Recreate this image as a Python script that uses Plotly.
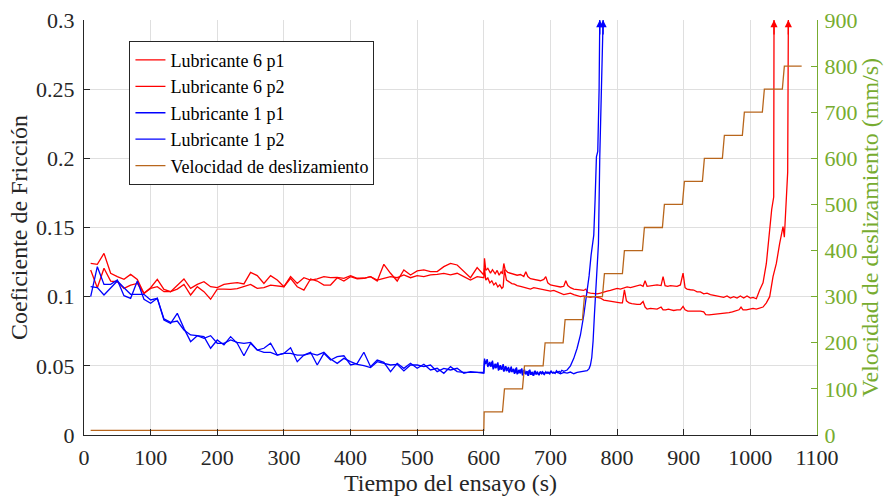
import plotly.graph_objects as go

# ---------------- data ----------------
# pre-600 s samples (every 10 s)
t_pre = [10, 20, 30, 40, 50, 60, 70, 80, 90, 100, 110, 120, 130, 140, 150, 160, 170, 180, 190, 200,
         210, 220, 230, 240, 250, 260, 270, 280, 290, 300, 310, 320, 330, 340, 350, 360, 370, 380, 390, 400,
         410, 420, 430, 440, 450, 460, 470, 480, 490, 500, 510, 520, 530, 540, 550, 560, 570, 580, 590, 600]

lub6_p1_pre = [0.1241, 0.1234, 0.1313, 0.1169, 0.1145, 0.1125, 0.1161, 0.1125, 0.1024, 0.1065, 0.1125, 0.1053,
               0.1036, 0.1080, 0.1128, 0.1060, 0.1089, 0.1108, 0.1072, 0.1065, 0.1089, 0.1096,
               0.1101, 0.1092, 0.1176, 0.1152, 0.1096, 0.1152, 0.1120, 0.1072, 0.1145, 0.1096, 0.1137,
               0.1120, 0.1128, 0.1145, 0.1137, 0.1140, 0.1133, 0.1152, 0.1133, 0.1133, 0.1145, 0.1113,
               0.1234, 0.1169, 0.1113, 0.1193, 0.1157, 0.1186, 0.1193, 0.1181, 0.1181, 0.1217, 0.1241,
               0.1229, 0.1181, 0.1137, 0.1210, 0.1157]
lub6_p2_pre = [0.1193, 0.1065, 0.1205, 0.1113, 0.1108, 0.1060, 0.1084, 0.1096, 0.1024, 0.1060, 0.1072, 0.1036,
               0.1036, 0.1055, 0.1089, 0.1012, 0.1072, 0.1036, 0.0981, 0.1055, 0.1055, 0.1053,
               0.1058, 0.1072, 0.1089, 0.1060, 0.1065, 0.1084, 0.1080, 0.1072, 0.1133, 0.1072, 0.1048,
               0.1128, 0.1113, 0.1084, 0.1084, 0.1137, 0.1113, 0.1145, 0.1128, 0.1133, 0.1145, 0.1120,
               0.1133, 0.1145, 0.1137, 0.1157, 0.1137, 0.1152, 0.1145, 0.1157, 0.1161, 0.1169, 0.1157,
               0.1169, 0.1145, 0.1120, 0.1145, 0.1137]
lub1_p1_pre = [0.1000, 0.1217, 0.1089, 0.1089, 0.1120, 0.1007, 0.0988, 0.1113, 0.0981, 0.0952, 0.0988, 0.0831,
               0.0807, 0.0880, 0.0771, 0.0675, 0.0718, 0.0711, 0.0627, 0.0687, 0.0651, 0.0711,
               0.0663, 0.0573, 0.0663, 0.0614, 0.0627, 0.0663, 0.0578, 0.0590, 0.0631, 0.0530, 0.0578,
               0.0598, 0.0506, 0.0590, 0.0542, 0.0566, 0.0573, 0.0506, 0.0518, 0.0598, 0.0494, 0.0542,
               0.0525, 0.0458, 0.0518, 0.0482, 0.0518, 0.0482, 0.0511, 0.0470, 0.0482, 0.0446, 0.0494,
               0.0458, 0.0453, 0.0453, 0.0453, 0.0446]
lub1_p2_pre = [0.1072, 0.1065, 0.1012, 0.1065, 0.1113, 0.1065, 0.1017, 0.1017, 0.1017, 0.0976, 0.0988, 0.0839,
               0.0814, 0.0824, 0.0759, 0.0723, 0.0718, 0.0699, 0.0718, 0.0663, 0.0663, 0.0687,
               0.0670, 0.0663, 0.0670, 0.0614, 0.0598, 0.0598, 0.0578, 0.0590, 0.0590, 0.0578, 0.0578,
               0.0590, 0.0578, 0.0598, 0.0549, 0.0518, 0.0554, 0.0530, 0.0511, 0.0501, 0.0487, 0.0530,
               0.0518, 0.0506, 0.0511, 0.0463, 0.0506, 0.0506, 0.0494, 0.0506, 0.0458, 0.0482, 0.0470,
               0.0482, 0.0446, 0.0458, 0.0453, 0.0453]

# post-600 s samples (time, COF)
lub6_p1_post = [(601, 0.1277), (603, 0.119), (606, 0.1205), (610, 0.117), (613, 0.1195), (617, 0.1165),
                (620, 0.119), (623, 0.1155), (626, 0.118), (628, 0.1165), (630, 0.124), (632, 0.1195),
                (636, 0.1175), (640, 0.117), (645, 0.1165), (650, 0.1155), (655, 0.116), (660, 0.1145),
                (663, 0.118), (666, 0.1145), (670, 0.113), (675, 0.1125), (680, 0.112), (685, 0.1115),
                (690, 0.1125), (693, 0.1145), (696, 0.110), (700, 0.1085), (705, 0.108), (710, 0.1075),
                (715, 0.107), (720, 0.1075), (723, 0.1115), (726, 0.108), (730, 0.1065), (735, 0.1055),
                (740, 0.105), (745, 0.1045), (750, 0.1045), (753, 0.1055), (756, 0.103), (760, 0.1025),
                (765, 0.102), (770, 0.102), (775, 0.1025), (780, 0.1035), (785, 0.104), (790, 0.1045),
                (795, 0.1055), (800, 0.106), (805, 0.1055), (810, 0.1065), (815, 0.107), (820, 0.1065),
                (825, 0.107), (830, 0.108), (835, 0.1085), (839, 0.1075), (842, 0.1115), (845, 0.1075),
                (850, 0.108), (855, 0.108), (860, 0.1085), (866, 0.108), (869, 0.1145), (872, 0.108),
                (876, 0.1075), (880, 0.108), (885, 0.108), (890, 0.1075), (895, 0.1085), (899, 0.117),
                (902, 0.1065), (905, 0.1055), (910, 0.105), (915, 0.1048), (920, 0.1035), (925, 0.1035),
                (930, 0.102), (935, 0.1025), (940, 0.1015), (945, 0.101), (950, 0.1005), (955, 0.1),
                (960, 0.0995), (965, 0.1005), (970, 0.099), (975, 0.1), (980, 0.099), (985, 0.1005),
                (990, 0.099), (995, 0.1005), (1000, 0.099), (1004, 0.0995), (1009, 0.0985), (1014, 0.1048),
                (1019, 0.11), (1024, 0.124), (1028, 0.145), (1032, 0.163), (1035, 0.172), (1035.5, 0.3)]
lub6_p2_post = [(601, 0.1205), (603, 0.112), (606, 0.1135), (609, 0.110), (612, 0.1115), (615, 0.1085),
                (618, 0.110), (621, 0.107), (624, 0.1085), (627, 0.106), (629, 0.107), (631, 0.1195),
                (634, 0.112), (638, 0.1105), (642, 0.1095), (646, 0.109), (650, 0.108), (655, 0.1075),
                (660, 0.107), (665, 0.1065), (670, 0.1055), (675, 0.1065), (680, 0.106), (685, 0.1055),
                (690, 0.105), (695, 0.1045), (700, 0.104), (705, 0.1045), (710, 0.1035), (715, 0.1025),
                (720, 0.1015), (725, 0.102), (730, 0.1025), (735, 0.1015), (740, 0.101), (745, 0.1),
                (750, 0.1005), (755, 0.1), (760, 0.0995), (765, 0.1), (770, 0.0995), (775, 0.099),
                (780, 0.0975), (785, 0.097), (790, 0.0965), (795, 0.096), (800, 0.0955), (805, 0.0955),
                (808, 0.0955), (811, 0.105), (814, 0.097), (818, 0.0955), (822, 0.095), (826, 0.0945),
                (830, 0.0945), (835, 0.0945), (839, 0.0965), (842, 0.0925), (845, 0.091), (850, 0.0915),
                (855, 0.091), (860, 0.091), (866, 0.0925), (869, 0.0905), (873, 0.0905), (877, 0.091),
                (881, 0.0905), (885, 0.090), (890, 0.0905), (895, 0.0905), (899, 0.093), (902, 0.0905),
                (906, 0.0895), (910, 0.0895), (915, 0.09), (920, 0.0895), (925, 0.0895), (930, 0.089),
                (933, 0.087), (938, 0.0868), (943, 0.087), (948, 0.0875), (953, 0.0875), (958, 0.088),
                (963, 0.088), (968, 0.0885), (973, 0.089), (978, 0.0895), (983, 0.0905), (986, 0.0925),
                (989, 0.0905), (994, 0.0905), (999, 0.091), (1004, 0.0915), (1009, 0.091), (1014, 0.092),
                (1019, 0.0925), (1024, 0.0955), (1029, 0.100), (1034, 0.1145), (1039, 0.124),
                (1044, 0.1386), (1047, 0.145), (1049, 0.1506), (1051, 0.143), (1054, 0.172),
                (1056, 0.19), (1057, 0.3)]
lub1_p1_post = [(601, 0.0552), (603, 0.0515), (605, 0.0548), (607, 0.050), (609, 0.0528), (611, 0.0495),
                (613, 0.0538), (615, 0.0482), (617, 0.0515), (619, 0.0488), (621, 0.0525), (623, 0.0472),
                (625, 0.0505), (627, 0.0478), (629, 0.0512), (631, 0.0462), (633, 0.0498), (635, 0.047),
                (637, 0.0492), (639, 0.0455), (641, 0.0495), (643, 0.0462), (645, 0.0478), (647, 0.0448),
                (649, 0.0488), (651, 0.0442), (653, 0.0472), (655, 0.0445), (657, 0.0482), (659, 0.0432),
                (661, 0.0475), (663, 0.0438), (665, 0.0462), (667, 0.0428), (669, 0.0472), (671, 0.0435),
                (673, 0.0455), (675, 0.043), (677, 0.0465), (679, 0.0438), (681, 0.0452), (683, 0.0432),
                (685, 0.046), (687, 0.0442), (689, 0.0452), (691, 0.0438), (693, 0.0458), (695, 0.0445),
                (697, 0.0452), (699, 0.0442), (701, 0.0462), (703, 0.0448), (705, 0.0455), (707, 0.0445),
                (709, 0.0465), (711, 0.0452), (713, 0.046), (715, 0.0452), (717, 0.0468), (720, 0.046),
                (725, 0.047), (730, 0.050), (735, 0.0554), (740, 0.0627), (745, 0.0723), (750, 0.0867),
                (755, 0.1036), (758, 0.115), (761, 0.13), (764, 0.1434), (765, 0.1445), (767, 0.17),
                (769, 0.201), (771, 0.205), (773, 0.25), (774, 0.3)]
lub1_p2_post = [(601, 0.0538), (602, 0.0512), (604, 0.0535), (606, 0.0492), (608, 0.0518), (610, 0.0495),
                (612, 0.0528), (614, 0.0475), (616, 0.0508), (618, 0.0482), (620, 0.0515), (622, 0.0465),
                (624, 0.0502), (626, 0.0472), (628, 0.0488), (630, 0.0458), (632, 0.0495), (634, 0.0462),
                (636, 0.0478), (638, 0.0452), (640, 0.0485), (642, 0.0455), (644, 0.0472), (646, 0.0442),
                (648, 0.0482), (650, 0.0438), (652, 0.0468), (654, 0.0448), (656, 0.0475), (658, 0.0432),
                (660, 0.0468), (662, 0.0442), (664, 0.046), (666, 0.043), (668, 0.0468), (670, 0.0436),
                (672, 0.0455), (674, 0.0428), (676, 0.0462), (678, 0.0442), (680, 0.0455), (682, 0.0435),
                (684, 0.0452), (686, 0.0445), (688, 0.0458), (690, 0.044), (692, 0.0452), (694, 0.0448),
                (696, 0.0455), (698, 0.0445), (700, 0.0458), (705, 0.0448), (710, 0.0455), (715, 0.0442),
                (720, 0.0452), (725, 0.0447), (730, 0.0455), (735, 0.0443), (740, 0.0452), (745, 0.0457),
                (750, 0.046), (755, 0.0465), (758, 0.048), (760, 0.0506), (762, 0.056), (764, 0.068),
                (766, 0.087), (768, 0.106), (770, 0.125), (772, 0.138), (774, 0.201), (776, 0.25),
                (779, 0.3)]

# sliding speed (mm/s), step profile
vel_t = [10, 600, 600.5, 628, 631, 658, 661, 689, 692, 719, 722, 748, 751, 778, 781, 808, 811, 838,
         841, 868, 871, 898, 901, 928, 931, 958, 961, 988, 991, 1018, 1021, 1048, 1051, 1077]
vel_v = [10, 10, 50, 50, 100, 100, 150, 150, 200, 200, 250, 250, 300, 300, 350, 350, 400, 400,
         450, 450, 500, 500, 550, 550, 600, 600, 650, 650, 700, 700, 750, 750, 800, 800]

names = ["Lubricante 6 p1", "Lubricante 6 p2", "Lubricante 1 p1", "Lubricante 1 p2"]
colors = ["#FF0000", "#FF0000", "#0000FF", "#0000FF"]
pre = [lub6_p1_pre, lub6_p2_pre, lub1_p1_pre, lub1_p2_pre]
post = [lub6_p1_post, lub6_p2_post, lub1_p1_post, lub1_p2_post]

GREEN = "#77AC30"
AXC = "#262626"
FONT = "Times New Roman, Liberation Serif, serif"

fig = go.Figure()
arrows = []
for name, col, p, q in zip(names, colors, pre, post):
    xs = t_pre + [a for a, _ in q]
    ys = p + [b for _, b in q]
    fig.add_trace(go.Scatter(x=xs, y=ys, mode="lines", name=name,
                             line=dict(color=col, width=1.3)))
    arrows.append(dict(x=xs[-1], y=ys[-1], xref="x", yref="y", ax=0, ay=16,
                       showarrow=True, arrowhead=2, arrowsize=1.1, arrowwidth=1.3,
                       arrowcolor=col, text=""))

fig.add_trace(go.Scatter(x=vel_t, y=vel_v, mode="lines", name="Velocidad de deslizamiento",
                         line=dict(color="#B8661C", width=1.3), yaxis="y2"))

fig.update_layout(
    width=887, height=497,
    margin=dict(l=84, r=70, t=20, b=62),
    plot_bgcolor="white", paper_bgcolor="white",
    font=dict(family=FONT, size=22, color=AXC),
    showlegend=True,
    legend=dict(x=0.062, y=0.95, xanchor="left", yanchor="top",
                bgcolor="white", bordercolor=AXC, borderwidth=1,
                font=dict(family=FONT, size=18, color="black"),
                tracegroupgap=0, itemwidth=30),
    annotations=arrows,
    xaxis=dict(range=[0, 1100], tick0=0, dtick=100, showgrid=True, gridcolor="#DFDFDF",
               gridwidth=1, showline=True, linecolor=AXC, linewidth=1, ticks="inside",
               ticklen=6, tickcolor=AXC, zeroline=False, automargin=False,
               ticklabelstandoff=3,
               tickfont=dict(family=FONT, size=22, color=AXC),
               title=dict(text="Tiempo del ensayo (s)", font=dict(family=FONT, size=24, color=AXC),
                          standoff=2)),
    yaxis=dict(range=[0, 0.3], tick0=0, dtick=0.05, showgrid=True, gridcolor="#DFDFDF",
               gridwidth=1, showline=True, linecolor=AXC, linewidth=1, ticks="inside",
               ticklen=6, tickcolor=AXC, zeroline=False, automargin=False,
               ticklabelstandoff=4,
               tickfont=dict(family=FONT, size=22, color=AXC),
               title=dict(text="Coeficiente de Fricción", font=dict(family=FONT, size=24, color=AXC),
                          standoff=1)),
    yaxis2=dict(range=[0, 900], tick0=0, dtick=100, overlaying="y", side="right",
                showgrid=False, showline=True, linecolor=GREEN, linewidth=1, ticks="inside",
                ticklen=6, tickcolor=GREEN, zeroline=False, automargin=False,
                ticklabelstandoff=2,
                tickfont=dict(family=FONT, size=22, color=GREEN),
                title=dict(text="Velocidad de deslizamiento (mm/s)",
                           font=dict(family=FONT, size=24, color=GREEN), standoff=4)),
)

fig.write_html("out.html")
